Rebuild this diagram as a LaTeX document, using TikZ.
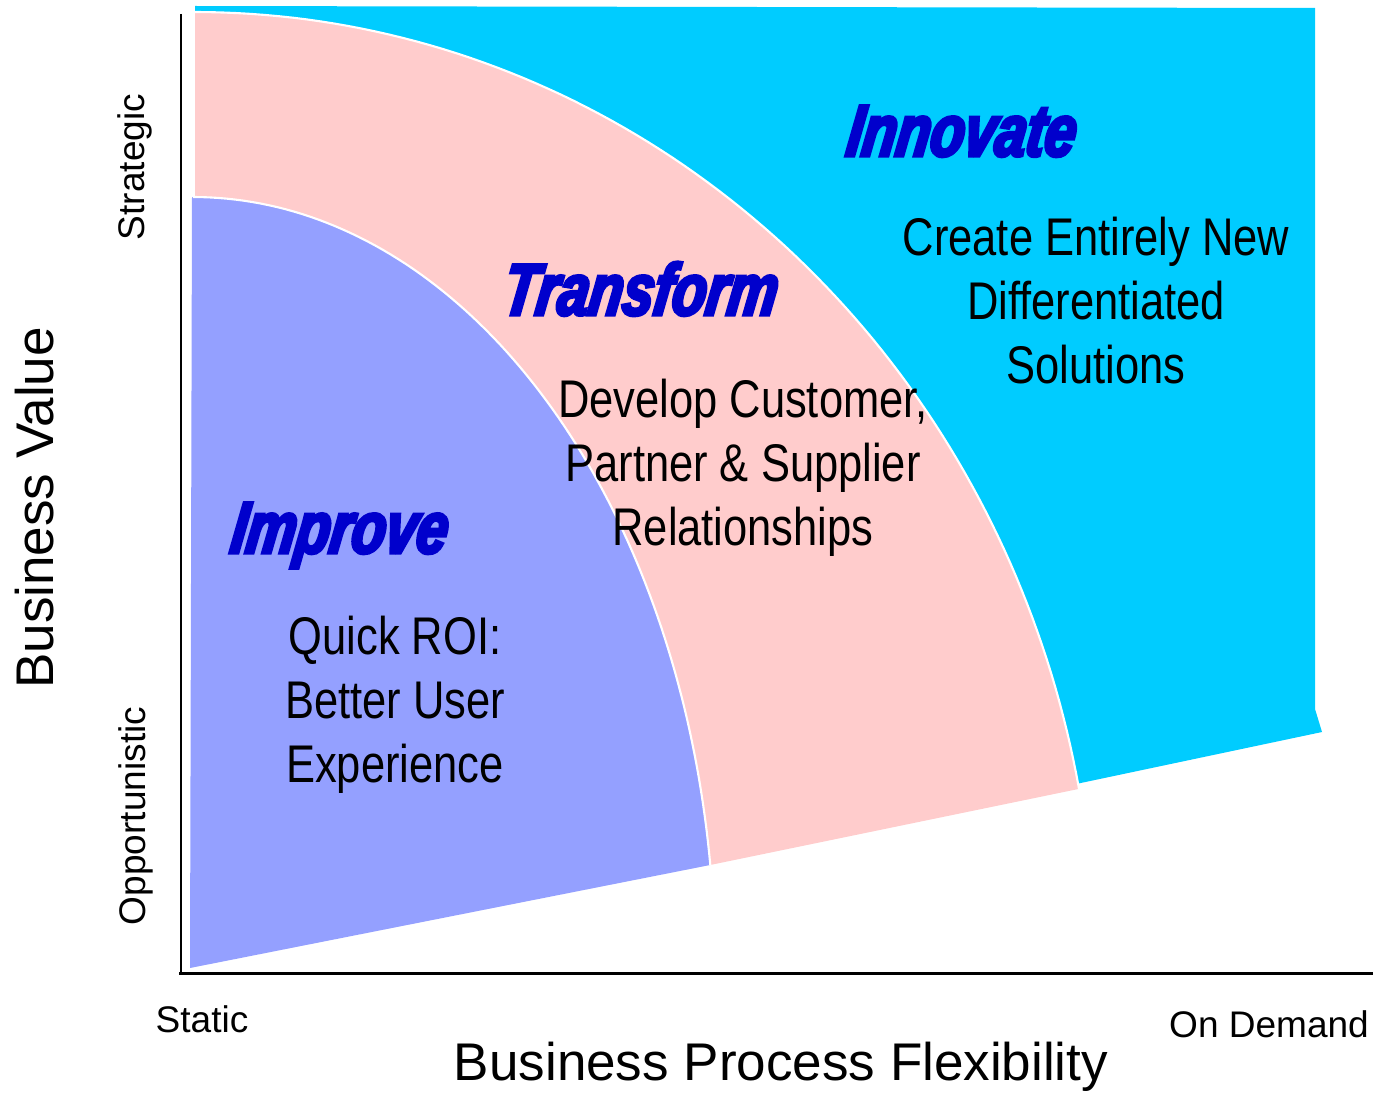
\documentclass[tikz,border=0pt]{standalone}
\usepackage{fontspec}
\setmainfont{Liberation Sans}
\newfontfamily\narrowfont[FakeStretch=0.82]{Liberation Sans}
\newfontfamily\titlefont[FakeStretch=0.76,FakeBold=4.5,FakeSlant=0.14]{Liberation Sans}
\definecolor{cyanc}{HTML}{00CCFF}
\definecolor{pinkc}{HTML}{FFCCCC}
\definecolor{purplec}{HTML}{94A0FF}
\definecolor{titleblue}{HTML}{0000CC}
\tikzset{
  axisline/.style={line width=0.85pt, black},
  arcline/.style={white, line width=0.6pt},
  titletext/.style={anchor=base, inner sep=0pt, text=titleblue, font=\titlefont\bfseries\itshape\fontsize{20.8}{25}\selectfont},
  bodytext/.style={anchor=base, inner sep=0pt, align=center, font=\narrowfont\fontsize{15.08}{18.07}\selectfont},
  axislabel/.style={anchor=base, inner sep=0pt, font=\fontsize{15.08}{18}\selectfont},
  ticklabel/.style={anchor=base, inner sep=0pt, font=\fontsize{10.53}{12.6}\selectfont}
}
\begin{document}
\begin{tikzpicture}[x=0.01cm, y=-0.01cm]
\useasboundingbox (0,0) rectangle (1373,1094);
% cyan region
\fill[cyanc] (195,6) -- (1315,8) -- (1315,709) -- (1322,732) -- (1076,784) -- (195,784) -- cycle;
% pink region
\fill[pinkc] plot[domain=90:10.8, samples=90, variable=\t] ({195+900*cos(\t)},{968-956*sin(\t)})
  -- plot[domain=7.68:90, samples=90, variable=\t] ({193+522*cos(\t)},{968-771*sin(\t)}) -- (195,197) -- cycle;
% purple region
\fill[purplec] plot[domain=90:7.68, samples=90, variable=\t] ({192+523*cos(\t)},{968-771*sin(\t)})
  -- (190,968) -- cycle;
% white borders
\draw[arcline] plot[domain=90:10.8, samples=90, variable=\t] ({195+900*cos(\t)},{968-956*sin(\t)});
\draw[arcline] plot[domain=90:7.68, samples=90, variable=\t] ({193+522*cos(\t)},{968-771*sin(\t)});
% axes
\coordinate (ytop) at (181,14);
\coordinate (origin) at (181,973);
\coordinate (xend) at (1373,973);
\draw[axisline] (ytop) -- (181,975);
\draw[axisline] (179,973) -- (xend);
% titles
\node[titletext] (innovate) at (959,156) {Innovate};
\node[titletext] (transform) at (638,315) {Transform};
\node[titletext] (improve) at (337,553) {Improve};
% body texts (base anchor = last line)
\node[bodytext] (create) at (1096,383) {Create Entirely New\\Differentiated\\Solutions};
\node[bodytext] (develop) at (743,545) {Develop Customer,\\Partner \& Supplier\\Relationships};
\node[bodytext] (quick) at (395,782) {Quick ROI:\\Better User\\Experience};
% axis labels
\node[axislabel, rotate=90] (bvalue) at (53,508) {Business Value};
\node[axislabel] (bflex) at (781,1080) {Business Process Flexibility};
\node[ticklabel, rotate=90] (strategic) at (144,167) {Strategic};
\node[ticklabel, rotate=90] (opportunistic) at (145,816) {Opportunistic};
\node[ticklabel] (static) at (202,1032) {Static};
\node[ticklabel] (ondemand) at (1269,1037) {On Demand};
\end{tikzpicture}
\end{document}
